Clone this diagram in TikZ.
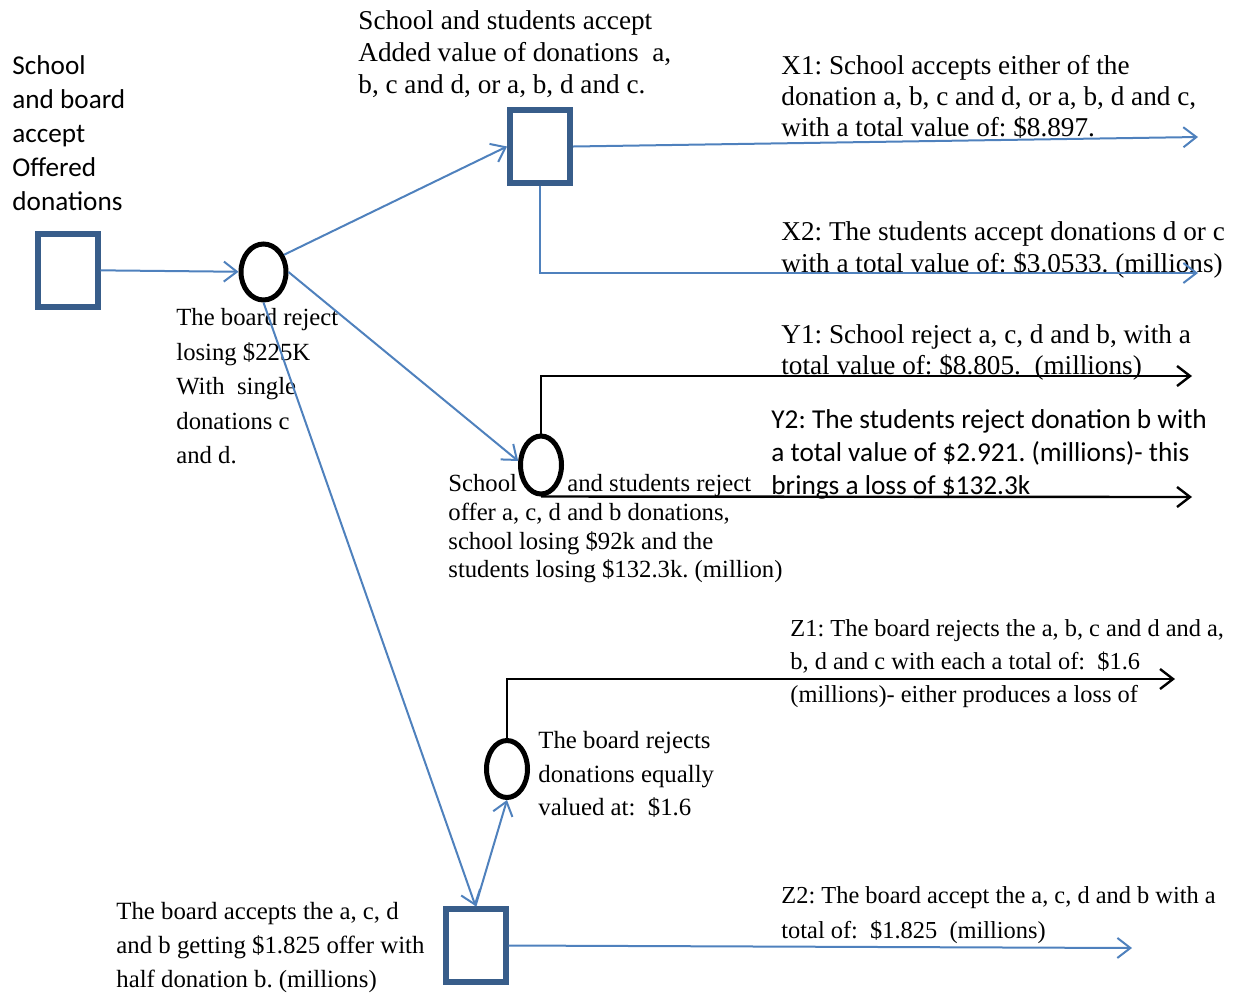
\documentclass[tikz,border=0pt]{standalone}
\usepackage{fontspec}
\setmainfont{Liberation Serif}
\newfontfamily\calibri{Carlito}
\usepackage{tikz}
\usetikzlibrary{arrows.meta}
\usetikzlibrary{shapes.geometric}
\tikzset{>={Straight Barb[length=6.5pt,width=10pt]}}
\definecolor{lineblue}{HTML}{4F81BD}
\definecolor{boxblue}{HTML}{385D8A}
\tikzset{
  choice/.style={rectangle, draw=boxblue, line width=3pt, inner sep=0pt,
    minimum width=30pt, minimum height=36.5pt},
  chance/.style={ellipse, draw=black, line width=2.5pt, inner sep=0pt,
    minimum width=20.5pt, minimum height=29pt},
  note/.style={anchor=north west, inner sep=0pt, align=left},
  flow/.style={->, draw=lineblue, line width=1pt},
  result/.style={->, draw=black, line width=1.2pt}
}
\frenchspacing

\begin{document}
\begin{tikzpicture}[x=0.5pt, y=-0.5pt]
\newcommand\tsize[2]{\fontsize{#1}{#2}\selectfont}
\useasboundingbox (0,0) rectangle (1236,992);

% decision and chance nodes
\node[choice] (box1) at (67.5,270) {};
\node[chance, minimum width=22.5pt, minimum height=28pt] (c1) at (263.5,272) {};
\node[choice] (box2) at (540,146.5) {};
\node[chance] (c2) at (541,465) {};
\node[chance, minimum height=28.5pt] (c3) at (507,769) {};
\node[choice] (box3) at (475.5,945.5) {};

% free ends of the outcomes
\coordinate (x1) at (1198,137);
\coordinate (x2) at (1198,273);
\coordinate (y1) at (1192,376);
\coordinate (y2) at (1192,497);
\coordinate (z1) at (1175,679);
\coordinate (z2) at (1132,948);

% labels
\node[note, font=\calibri\tsize{13.6}{17}] (t_start) at (12,55)
  {School\\and board\\accept\\Offered\\donations};
\node[note, font=\tsize{13.6}{16}] (t_accept) at (358,10)
  {School and students accept\\Added value of donations~ a,\\b, c and d, or a, b, d and c.};
\node[note, font=\tsize{13.6}{15.5}] (t_x1) at (781,55)
  {X1: School accepts either of the\\donation a, b, c and d, or a, b, d and c,\\with a total value of: \$8.897.};
\node[note, font=\tsize{13.6}{16}] (t_x2) at (781,221)
  {X2: The students accept donations d or c\\with a total value of: \$3.0533. (millions)};
\node[note, font=\tsize{12.35}{17.3}] (t_reject) at (176,308)
  {The board reject\\losing \$225K\\With~ single\\donations c\\and d.};
\node[note, font=\tsize{13.6}{15.5}] (t_y1) at (781,324)
  {Y1: School reject a, c, d and b, with a\\total value of: \$8.805.~ (millions)};
\node[note, font=\calibri\tsize{13.65}{16.5}] (t_y2) at (771,409)
  {Y2: The students reject donation b with\\a total value of \$2.921. (millions)- this\\brings a loss of \$132.3k};
\node[note, font=\tsize{12.35}{14.4}] (t_mid) at (448,474)
  {\makebox[59.5pt][l]{School}and students reject\\offer a, c, d and b donations,\\school losing \$92k and the\\students losing \$132.3k. (million)};
\node[note, font=\tsize{12.2}{16.5}] (t_z1) at (790,619)
  {Z1: The board rejects the a, b, c and d and a,\\b, d and c with each a total of:~ \$1.6\\(millions)- either produces a loss of};
\node[note, font=\tsize{12.4}{16.75}] (t_equal) at (538,731)
  {The board rejects\\donations equally\\valued at:~ \$1.6};
\node[note, font=\tsize{12.2}{17.5}] (t_z2) at (781,886)
  {Z2: The board accept the a, c, d and b with a\\total of:~ \$1.825~ (millions)};
\node[note, font=\tsize{12.4}{17}] (t_half) at (116,902)
  {The board accepts the a, c, d\\and b getting \$1.825 offer with\\half donation b. (millions)};

% connectors
\draw[flow] (box1) -- (c1);
\draw[flow] (c1.40) -- (box2.west);
\draw[flow] (c1.east) -- (c2.170);
\draw[flow] (c1.south) -- (box3.north);
\draw[flow] (box3.north) -- (c3.south);
\draw[flow] (box2.east) -- (x1);
\draw[flow] (box2.south) |- (x2);
\draw[result] (c2.north) |- (y1);
\draw[result] (c2.south) -- (y2);
\draw[result] (c3.north) |- (z1);
\draw[flow] (box3.east) -- (z2);
\end{tikzpicture}
\end{document}
